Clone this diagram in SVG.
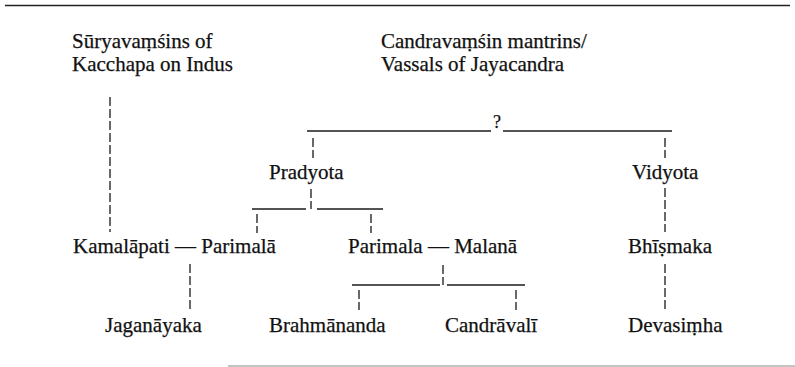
<svg xmlns="http://www.w3.org/2000/svg" width="795" height="367" viewBox="0 0 795 367">
<style>
text{font-family:"Liberation Serif","Times New Roman",serif;font-size:21px;fill:#111;stroke:#111;stroke-width:0.25}
.c line{stroke:#1a1a1a;stroke-width:1.3;fill:none}
.c .d{stroke-dasharray:9 3}
.rule{stroke:#222;stroke-width:1.6}
.rule2{stroke:#b0b0b0;stroke-width:1.6}
</style>
<rect width="795" height="367" fill="#fff"/>
<line class="rule" x1="5" y1="5.5" x2="790" y2="5.5"/>
<line class="rule2" x1="228" y1="366" x2="795" y2="366"/>
<g id="suryavamsins"><text x="72" y="48">Sūryavaṃśins of</text><text x="72" y="71">Kacchapa on Indus</text></g>
<g id="candravamsin"><text x="381" y="48">Candravaṃśin mantrins/</text><text x="381" y="71">Vassals of Jayacandra</text></g>
<g id="unknown"><text x="497" y="128" text-anchor="middle" style="font-size:18px">?</text></g>
<g id="pradyota"><text x="269" y="179">Pradyota</text></g>
<g id="vidyota"><text x="632" y="179">Vidyota</text></g>
<g id="kamalapati"><text x="73" y="253">Kamalāpati — Parimalā</text></g>
<g id="parimala"><text x="348" y="253">Parimala — Malanā</text></g>
<g id="bhismaka"><text x="628" y="253">Bhīṣmaka</text></g>
<g id="jaganayaka"><text x="105" y="332">Jaganāyaka</text></g>
<g id="brahmananda"><text x="269" y="332">Brahmānanda</text></g>
<g id="candravali"><text x="445" y="332">Candrāvalī</text></g>
<g id="devasimha"><text x="628" y="332">Devasiṃha</text></g>
<g id="connectors" class="c">
<line class="d" x1="110" y1="97" x2="110" y2="232"/>
<line x1="307" y1="131" x2="491" y2="131"/>
<line x1="503" y1="131" x2="672" y2="131"/>
<line class="d" x1="313" y1="138" x2="313" y2="158"/>
<line class="d" x1="665" y1="138" x2="665" y2="158"/>
<line class="d" x1="311" y1="189" x2="311" y2="209"/>
<line x1="252" y1="209" x2="306" y2="209"/>
<line x1="317" y1="209" x2="383" y2="209"/>
<line class="d" x1="257" y1="214" x2="257" y2="233"/>
<line class="d" x1="371" y1="214" x2="371" y2="233"/>
<line class="d" x1="665" y1="188" x2="665" y2="232"/>
<line class="d" x1="190" y1="264" x2="190" y2="312"/>
<line class="d" x1="443" y1="265" x2="443" y2="285"/>
<line x1="352" y1="285" x2="440" y2="285"/>
<line x1="447" y1="285" x2="525" y2="285"/>
<line class="d" x1="359" y1="290" x2="359" y2="310"/>
<line class="d" x1="516" y1="290" x2="516" y2="310"/>
<line class="d" x1="665" y1="264" x2="665" y2="312"/>
</g>
</svg>
